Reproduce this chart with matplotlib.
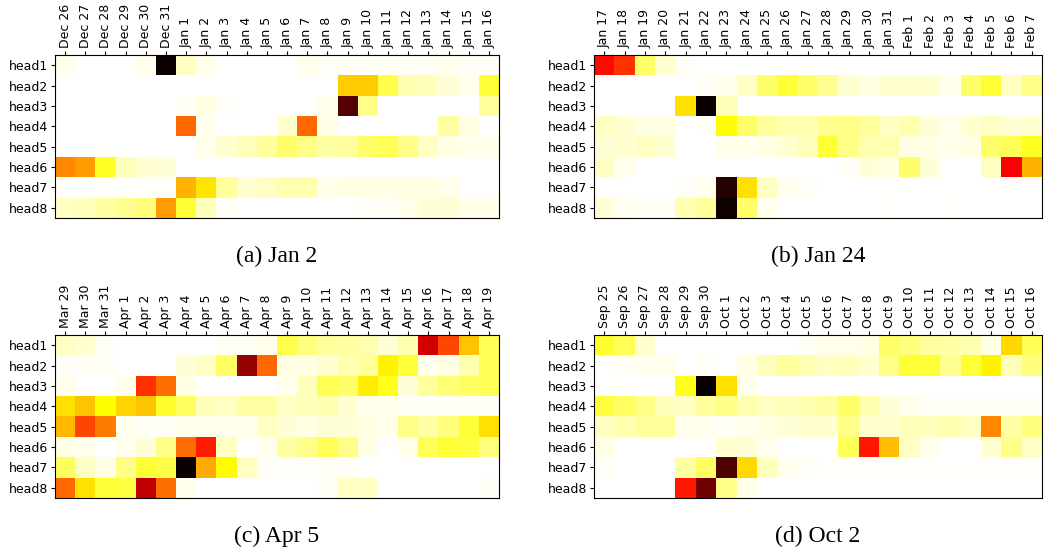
import matplotlib.pyplot as plt
import numpy as np

heads = [f"head{i}" for i in range(1, 9)]

dates_a = ["Dec 26", "Dec 27", "Dec 28", "Dec 29", "Dec 30", "Dec 31"] + [f"Jan {d}" for d in range(1, 17)]
dates_b = [f"Jan {d}" for d in range(17, 32)] + [f"Feb {d}" for d in range(1, 8)]
dates_c = ["Mar 29", "Mar 30", "Mar 31"] + [f"Apr {d}" for d in range(1, 20)]
dates_d = [f"Sep {d}" for d in range(25, 31)] + [f"Oct {d}" for d in range(1, 17)]

# attention weights, one row per head
att_a = [
    [0.02, 0, 0, 0, 0.02, 1.0, 0.06, 0.02, 0, 0, 0, 0, 0.02, 0.01, 0.01, 0.01, 0.01, 0.01, 0.01, 0.02, 0.01, 0.01],
    [0, 0, 0, 0, 0, 0, 0, 0, 0, 0, 0, 0, 0, 0, 0.33, 0.33, 0.18, 0.08, 0.07, 0.04, 0.02, 0.20],
    [0, 0, 0, 0, 0, 0, 0.01, 0.03, 0.01, 0, 0, 0, 0, 0.02, 0.89, 0.12, 0, 0, 0, 0, 0, 0.10],
    [0, 0, 0, 0, 0, 0, 0.48, 0.02, 0, 0, 0, 0.05, 0.48, 0.03, 0, 0, 0, 0, 0, 0.09, 0.03, 0],
    [0, 0, 0, 0, 0, 0, 0, 0.02, 0.05, 0.07, 0.10, 0.15, 0.12, 0.09, 0.10, 0.15, 0.17, 0.12, 0.06, 0.03, 0.02, 0.02],
    [0.43, 0.40, 0.22, 0.07, 0.05, 0.04, 0, 0, 0, 0, 0, 0, 0, 0, 0, 0, 0, 0, 0, 0, 0, 0],
    [0.005, 0.005, 0.005, 0.005, 0.005, 0.005, 0.37, 0.29, 0.10, 0.05, 0.06, 0.08, 0.08, 0.02, 0.03, 0.03, 0.03, 0.03, 0.03, 0.02, 0, 0],
    [0.06, 0.07, 0.09, 0.11, 0.13, 0.40, 0.20, 0.07, 0.01, 0, 0, 0, 0, 0, 0, 0.01, 0.01, 0.02, 0.04, 0.04, 0.02, 0.02],
]
att_b = [
    [0.62, 0.56, 0.15, 0.05, 0.01, 0, 0, 0, 0, 0, 0, 0, 0, 0, 0, 0, 0, 0, 0, 0, 0, 0],
    [0, 0, 0, 0, 0, 0.01, 0.02, 0.06, 0.15, 0.20, 0.15, 0.11, 0.05, 0.03, 0.05, 0.05, 0.05, 0.02, 0.15, 0.20, 0.06, 0.12],
    [0, 0, 0, 0, 0.30, 1.0, 0.07, 0, 0, 0, 0, 0, 0, 0, 0, 0, 0, 0, 0, 0, 0, 0],
    [0.06, 0.05, 0.03, 0.03, 0, 0.01, 0.25, 0.15, 0.10, 0.08, 0.08, 0.11, 0.12, 0.10, 0.06, 0.08, 0.04, 0.02, 0.05, 0.06, 0.04, 0.05],
    [0.04, 0.05, 0.06, 0.05, 0, 0, 0.02, 0.02, 0.03, 0.05, 0.07, 0.20, 0.12, 0.08, 0.08, 0.03, 0.03, 0.02, 0.03, 0.15, 0.17, 0.22],
    [0.06, 0.02, 0, 0, 0, 0, 0, 0, 0, 0, 0, 0, 0.01, 0.04, 0.03, 0.15, 0.04, 0, 0, 0.06, 0.64, 0.37],
    [0, 0, 0, 0, 0.01, 0.02, 0.96, 0.30, 0.06, 0.02, 0.01, 0, 0, 0, 0, 0, 0, 0, 0, 0, 0, 0],
    [0.04, 0.02, 0.01, 0.01, 0.08, 0.10, 0.99, 0.15, 0.02, 0, 0, 0, 0, 0, 0.005, 0, 0, 0.005, 0, 0, 0, 0],
]
att_c = [
    [0.06, 0.05, 0.01, 0, 0, 0, 0, 0, 0.01, 0.01, 0.02, 0.18, 0.13, 0.10, 0.09, 0.08, 0.04, 0.08, 0.70, 0.53, 0.34, 0.17],
    [0.01, 0.01, 0.01, 0, 0, 0, 0.04, 0.06, 0.16, 0.79, 0.48, 0.03, 0.03, 0.05, 0.08, 0.10, 0.27, 0.20, 0.02, 0.03, 0.08, 0.17],
    [0.02, 0, 0, 0.02, 0.56, 0.47, 0.03, 0, 0, 0, 0, 0.02, 0.07, 0.17, 0.15, 0.28, 0.23, 0.04, 0.10, 0.14, 0.16, 0.17],
    [0.30, 0.34, 0.25, 0.32, 0.34, 0.21, 0.16, 0.07, 0.06, 0.09, 0.09, 0.06, 0.07, 0.08, 0.05, 0.02, 0.02, 0.01, 0.01, 0.01, 0.01, 0.01],
    [0.36, 0.53, 0.45, 0.02, 0.01, 0.01, 0.02, 0.02, 0.02, 0.02, 0.06, 0.04, 0.03, 0.04, 0.04, 0.03, 0.02, 0.12, 0.09, 0.13, 0.20, 0.30],
    [0.03, 0.02, 0, 0.02, 0.04, 0.12, 0.47, 0.59, 0.06, 0, 0.02, 0.09, 0.12, 0.17, 0.12, 0.03, 0, 0.02, 0.17, 0.20, 0.19, 0.13],
    [0.16, 0.06, 0.03, 0.12, 0.20, 0.18, 1.0, 0.38, 0.26, 0.06, 0.01, 0.01, 0.01, 0.01, 0.01, 0, 0, 0, 0, 0, 0, 0],
    [0.48, 0.30, 0.20, 0.19, 0.73, 0.47, 0.02, 0, 0, 0, 0, 0, 0, 0.01, 0.06, 0.06, 0, 0, 0, 0, 0, 0.01],
]
att_d = [
    [0.21, 0.17, 0.05, 0, 0, 0, 0, 0, 0, 0, 0.01, 0.02, 0.02, 0.03, 0.15, 0.13, 0.10, 0.09, 0.08, 0.03, 0.31, 0.17],
    [0, 0.01, 0.02, 0.02, 0, 0.01, 0, 0.03, 0.07, 0.10, 0.08, 0.06, 0.07, 0.05, 0.12, 0.20, 0.20, 0.11, 0.20, 0.27, 0.07, 0.13],
    [0, 0, 0, 0, 0.23, 1.0, 0.30, 0.02, 0, 0, 0, 0, 0, 0, 0, 0, 0, 0, 0, 0, 0, 0],
    [0.19, 0.16, 0.12, 0.07, 0.06, 0.10, 0.12, 0.08, 0.06, 0.07, 0.08, 0.09, 0.15, 0.08, 0.04, 0.02, 0.01, 0.01, 0.01, 0.01, 0.01, 0.01],
    [0.06, 0.08, 0.10, 0.10, 0.02, 0.02, 0.01, 0.02, 0.03, 0.04, 0.05, 0.05, 0.12, 0.05, 0.05, 0.07, 0.07, 0.08, 0.06, 0.43, 0.09, 0.13],
    [0.03, 0, 0, 0, 0, 0, 0.05, 0.04, 0.02, 0, 0, 0, 0.17, 0.60, 0.35, 0.06, 0.02, 0, 0, 0.05, 0.12, 0.06],
    [0.01, 0, 0, 0, 0.09, 0.16, 0.90, 0.31, 0.07, 0.02, 0.01, 0.005, 0.005, 0.005, 0.005, 0.005, 0.005, 0.005, 0.005, 0.005, 0.005, 0.005],
    [0, 0, 0, 0, 0.60, 0.85, 0.12, 0.02, 0, 0, 0, 0, 0, 0, 0, 0, 0, 0, 0, 0, 0, 0],
]

captions = ["(a) Jan 2", "(b) Jan 24", "(c) Apr 5", "(d) Oct 2"]

W, H = 1045, 548
fig = plt.figure(figsize=(W / 100, H / 100), dpi=100)

# pixel boxes (left, top, right, bottom) for each panel
boxes = [(55, 55, 499, 218), (594, 55, 1042, 218), (55, 335, 499, 498), (594, 335, 1042, 498)]
panels = [(att_a, dates_a), (att_b, dates_b), (att_c, dates_c), (att_d, dates_d)]

for (l, t, r, b), (vals, dates), cap in zip(boxes, panels, captions):
    ax = fig.add_axes([l / W, 1 - b / H, (r - l) / W, (b - t) / H])
    ax.imshow(np.array(vals), cmap="hot_r", vmin=0, vmax=1, aspect="auto", interpolation="nearest")
    ax.set_xticks(range(len(dates)))
    ax.set_xticklabels(dates, rotation=90, fontsize=9)
    ax.set_yticks(range(len(heads)))
    ax.set_yticklabels(heads, fontsize=9)
    ax.xaxis.tick_top()
    ax.tick_params(axis="x", length=3, pad=2)
    ax.tick_params(axis="y", length=3, pad=2)
    fig.text((l + r) / 2 / W, 1 - (b + 38) / H, cap, ha="center", va="center",
             fontsize=17, family="Liberation Serif")

fig.savefig("out.png", dpi=100)
